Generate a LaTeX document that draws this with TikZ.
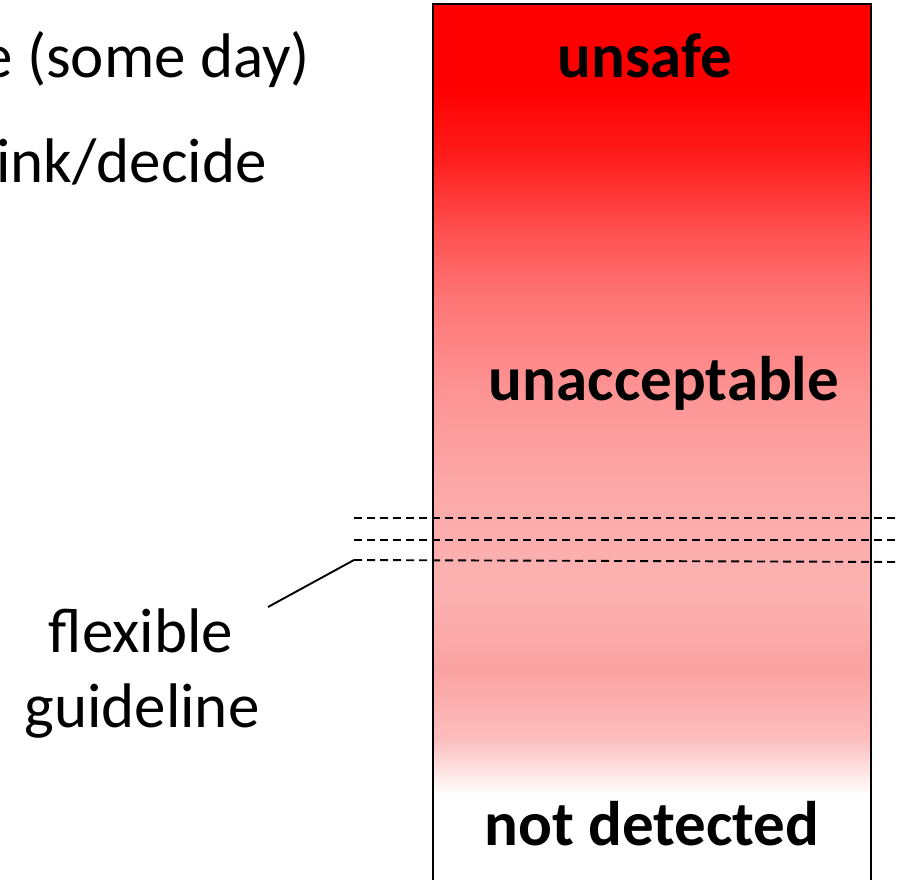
\documentclass[tikz,border=0pt]{standalone}
\usepackage{fontspec}
\setmainfont{Carlito}
\begin{document}
\begin{tikzpicture}[x=1pt,y=-1pt,
  txt/.style={inner sep=0pt, font=\fontsize{63}{77}\selectfont},
  lbl/.style={inner sep=0pt, font=\fontsize{63}{77}\selectfont\bfseries},
  guide/.style={dashed, dash pattern=on 8pt off 5pt, line width=1.9pt},
  frame/.style={draw=black, line width=2.6pt}]
\useasboundingbox (0,0) rectangle (899,879);
\clip (0,0) rectangle (899,879);

% graded fill of the severity bar, top to bottom
\definecolor{s0}{RGB}{255,0,0}
\definecolor{s1}{RGB}{255,0,0}
\definecolor{s2}{RGB}{255,30,30}
\definecolor{s3}{RGB}{255,80,80}
\definecolor{s4}{RGB}{255,118,118}
\definecolor{s5}{RGB}{253,150,150}
\definecolor{s6}{RGB}{252,170,170}
\definecolor{s7}{RGB}{252,178,178}
\definecolor{s8}{RGB}{250,162,162}
\definecolor{s9}{RGB}{253,190,190}
\definecolor{s10}{RGB}{255,255,255}
\foreach \ya/\yb/\ca/\cb in {4/90/s0/s1, 90/160/s1/s2, 160/230/s2/s3, 230/300/s3/s4,
    300/400/s4/s5, 400/500/s5/s6, 500/590/s6/s7, 590/670/s7/s8,
    670/740/s8/s9, 740/795/s9/s10}
  \shade[top color=\ca, bottom color=\cb, shading angle=0] (433,\ya-0.5) rectangle (871,\yb+0.5);
\fill[white] (433,795) rectangle (871,890);
\draw[frame] (433,890) -- (433,4) -- (871,4) -- (871,890);

% bar labels
\node[lbl, anchor=base] (unsafe) at (645,77) {unsafe};
\node[lbl, anchor=base] (unacc) at (664,400) {unacceptable};
\node[lbl, anchor=base] (notdet) at (652,845) {not detected};

% text running in from the left
\node[txt, anchor=base east] (someday) at (310,77) {e (some day)};
\node[txt, anchor=base east] (decide) at (267,182) {ink/decide};

% guideline band
\coordinate (g1L) at (354,518); \coordinate (g1R) at (905,518);
\coordinate (g2L) at (354,540); \coordinate (g2R) at (905,540);
\coordinate (g3L) at (354,560); \coordinate (g3R) at (905,562);
\draw[guide] (g1L) -- (g1R);
\draw[guide] (g2L) -- (g2R);
\draw[guide] (g3L) -- (g3R);

\node[txt, anchor=base] (flex) at (141,652) {flexible};
\node[txt, anchor=base] (guideln) at (142,727) {guideline};
\coordinate (callout) at (268,607);
\draw[line width=1.9pt] (callout) -- (g3L);
\end{tikzpicture}
\end{document}
